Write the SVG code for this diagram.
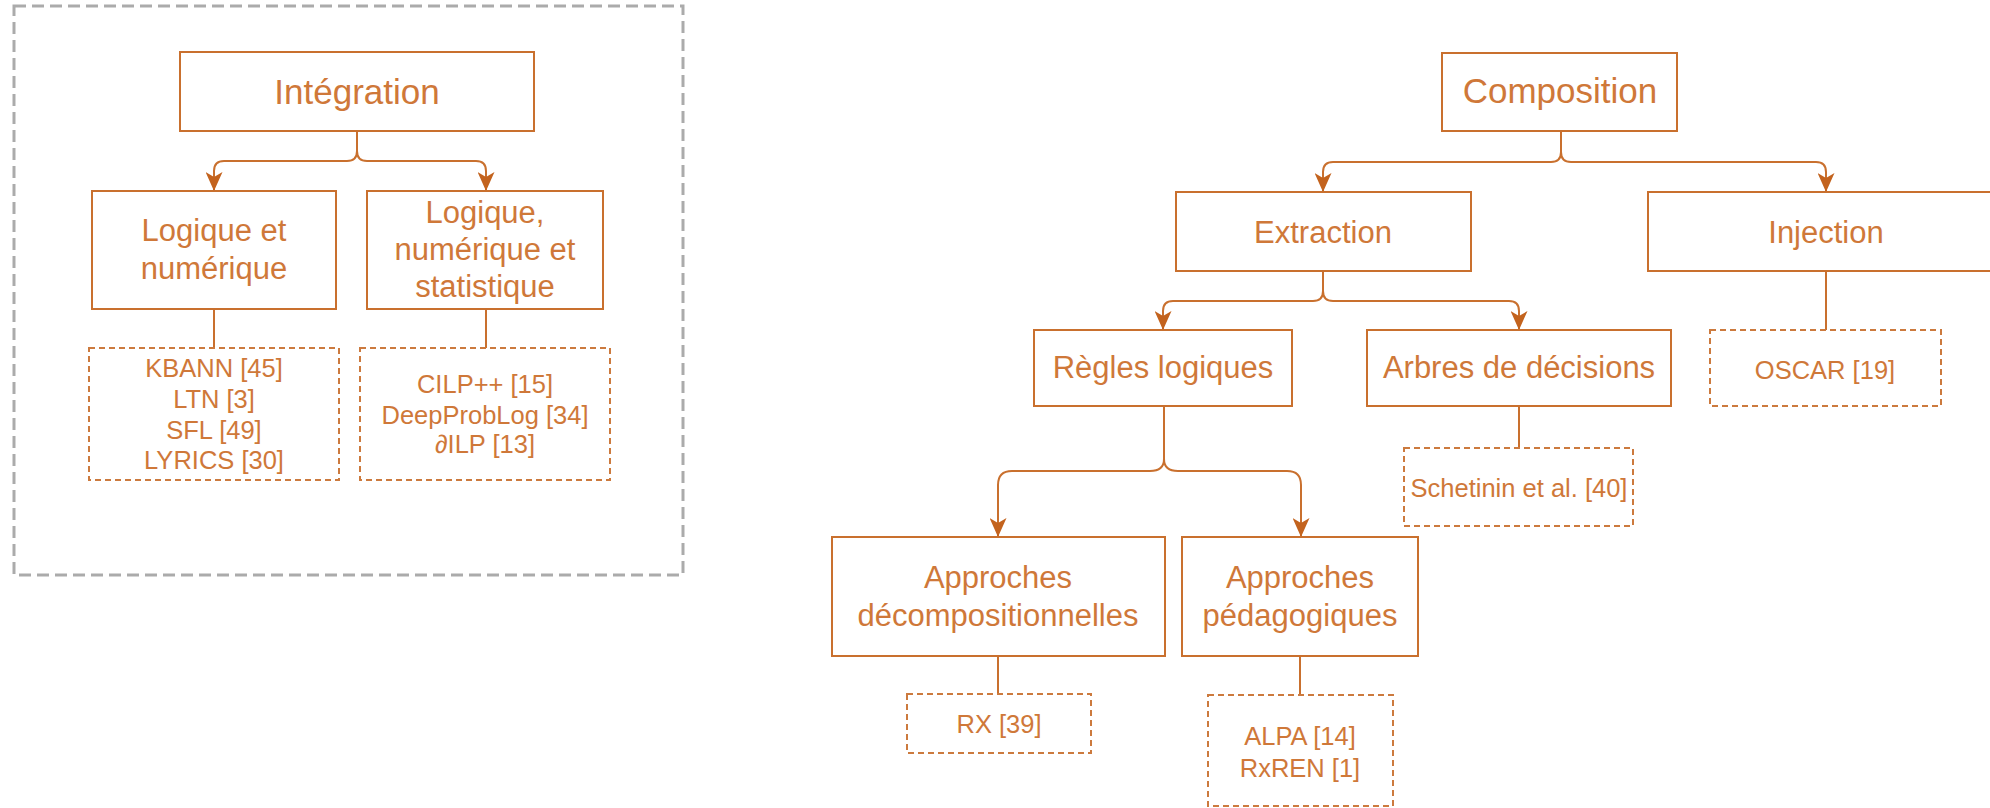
<svg xmlns="http://www.w3.org/2000/svg" width="1990" height="808" viewBox="0 0 1990 808">
  <style>
    .box { fill: #ffffff; stroke: #C9702E; stroke-width: 2; }
    .leaf { fill: #ffffff; stroke: #CC7A3E; stroke-width: 2; stroke-dasharray: 6 4; }
    .frame { fill: none; stroke: #ABABAB; stroke-width: 3; stroke-dasharray: 12 6; }
    .edge { fill: none; stroke: #C9702E; stroke-width: 2; }
    text { font-family: "Liberation Sans", Arial, sans-serif; fill: #CF7839; text-anchor: middle; }
    .t1 { font-size: 35px; }
    .t2 { font-size: 31px; }
    .t3 { font-size: 25.5px; }
  </style>
  <defs>
    <marker id="arrow" markerUnits="userSpaceOnUse" markerWidth="19" markerHeight="17" viewBox="0 0 19 17" refX="19" refY="8.5" orient="auto">
      <path d="M0,0 L19,8.5 L0,17 L5,8.5 Z" fill="#C3631E"/>
    </marker>
  </defs>

  <rect width="1990" height="808" fill="#ffffff"/>

  <!-- Integration family -->
  <rect class="frame" x="14" y="6" width="669" height="569"/>

  <g id="connectors">
    <!-- Intégration -->
    <path class="edge" marker-end="url(#arrow)" d="M357,131 V151 Q357,161 347,161 H224 Q214,161 214,171 V191"/>
    <path class="edge" marker-end="url(#arrow)" d="M357,131 V151 Q357,161 367,161 H476 Q486,161 486,171 V191"/>
    <path class="edge" d="M214,309 V348"/>
    <path class="edge" d="M486,309 V348"/>
    <!-- Composition -->
    <path class="edge" marker-end="url(#arrow)" d="M1561,131 V152 Q1561,162 1551,162 H1333 Q1323,162 1323,172 V192"/>
    <path class="edge" marker-end="url(#arrow)" d="M1561,131 V152 Q1561,162 1571,162 H1816 Q1826,162 1826,172 V192"/>
    <!-- Extraction -->
    <path class="edge" marker-end="url(#arrow)" d="M1323,271 V291 Q1323,301 1313,301 H1173 Q1163,301 1163,311 V330"/>
    <path class="edge" marker-end="url(#arrow)" d="M1323,271 V291 Q1323,301 1333,301 H1509 Q1519,301 1519,311 V330"/>
    <path class="edge" d="M1519,406 V448"/>
    <path class="edge" d="M1826,271 V330"/>
    <!-- Règles logiques -->
    <path class="edge" marker-end="url(#arrow)" d="M1164,406 V459 Q1164,471 1150,471 H1012 Q998,471 998,485 V537"/>
    <path class="edge" marker-end="url(#arrow)" d="M1164,406 V459 Q1164,471 1178,471 H1287 Q1301,471 1301,485 V537"/>
    <path class="edge" d="M998,656 V694"/>
    <path class="edge" d="M1300,656 V695"/>
  </g>

  <g id="integration">
    <rect class="box" x="180" y="52" width="354" height="79"/>
    <text class="t1" x="357" y="104">Intégration</text>
  </g>
  <g id="logique-numerique">
    <rect class="box" x="92" y="191" width="244" height="118"/>
    <text class="t2" x="214" y="241">Logique et</text>
    <text class="t2" x="214" y="279">numérique</text>
  </g>
  <g id="logique-numerique-statistique">
    <rect class="box" x="367" y="191" width="236" height="118"/>
    <text class="t2" x="485" y="223">Logique,</text>
    <text class="t2" x="485" y="260">numérique et</text>
    <text class="t2" x="485" y="297">statistique</text>
  </g>
  <g id="refs-logique-numerique">
    <rect class="leaf" x="89" y="348" width="250" height="132"/>
    <text class="t3" x="214" y="377">KBANN [45]</text>
    <text class="t3" x="214" y="408">LTN [3]</text>
    <text class="t3" x="214" y="439">SFL [49]</text>
    <text class="t3" x="214" y="469">LYRICS [30]</text>
  </g>
  <g id="refs-logique-statistique">
    <rect class="leaf" x="360" y="348" width="250" height="132"/>
    <text class="t3" x="485" y="393">CILP++ [15]</text>
    <text class="t3" x="485" y="424">DeepProbLog [34]</text>
    <text class="t3" x="485" y="453"><tspan font-style="italic">∂</tspan>ILP [13]</text>
  </g>

  <!-- Composition family -->
  <g id="composition">
    <rect class="box" x="1442" y="53" width="235" height="78"/>
    <text class="t1" x="1560" y="103">Composition</text>
  </g>
  <g id="extraction">
    <rect class="box" x="1176" y="192" width="295" height="79"/>
    <text class="t2" x="1323" y="243">Extraction</text>
  </g>
  <g id="injection">
    <rect class="box" x="1648" y="192" width="356" height="79"/>
    <text class="t2" x="1826" y="243">Injection</text>
  </g>
  <g id="regles-logiques">
    <rect class="box" x="1034" y="330" width="258" height="76"/>
    <text class="t2" x="1163" y="378">Règles logiques</text>
  </g>
  <g id="arbres-decisions">
    <rect class="box" x="1367" y="330" width="304" height="76"/>
    <text class="t2" x="1519" y="378">Arbres de décisions</text>
  </g>
  <g id="refs-arbres">
    <rect class="leaf" x="1404" y="448" width="229" height="78"/>
    <text class="t3" x="1519" y="497">Schetinin et al. [40]</text>
  </g>
  <g id="refs-injection">
    <rect class="leaf" x="1710" y="330" width="231" height="76"/>
    <text class="t3" x="1825" y="379">OSCAR [19]</text>
  </g>
  <g id="approches-decompositionnelles">
    <rect class="box" x="832" y="537" width="333" height="119"/>
    <text class="t2" x="998" y="588">Approches</text>
    <text class="t2" x="998" y="626">décompositionnelles</text>
  </g>
  <g id="approches-pedagogiques">
    <rect class="box" x="1182" y="537" width="236" height="119"/>
    <text class="t2" x="1300" y="588">Approches</text>
    <text class="t2" x="1300" y="626">pédagogiques</text>
  </g>
  <g id="refs-decompositionnelles">
    <rect class="leaf" x="907" y="694" width="184" height="59"/>
    <text class="t3" x="999" y="733">RX [39]</text>
  </g>
  <g id="refs-pedagogiques">
    <rect class="leaf" x="1208" y="695" width="185" height="111"/>
    <text class="t3" x="1300" y="745">ALPA [14]</text>
    <text class="t3" x="1300" y="777">RxREN [1]</text>
  </g>
</svg>
